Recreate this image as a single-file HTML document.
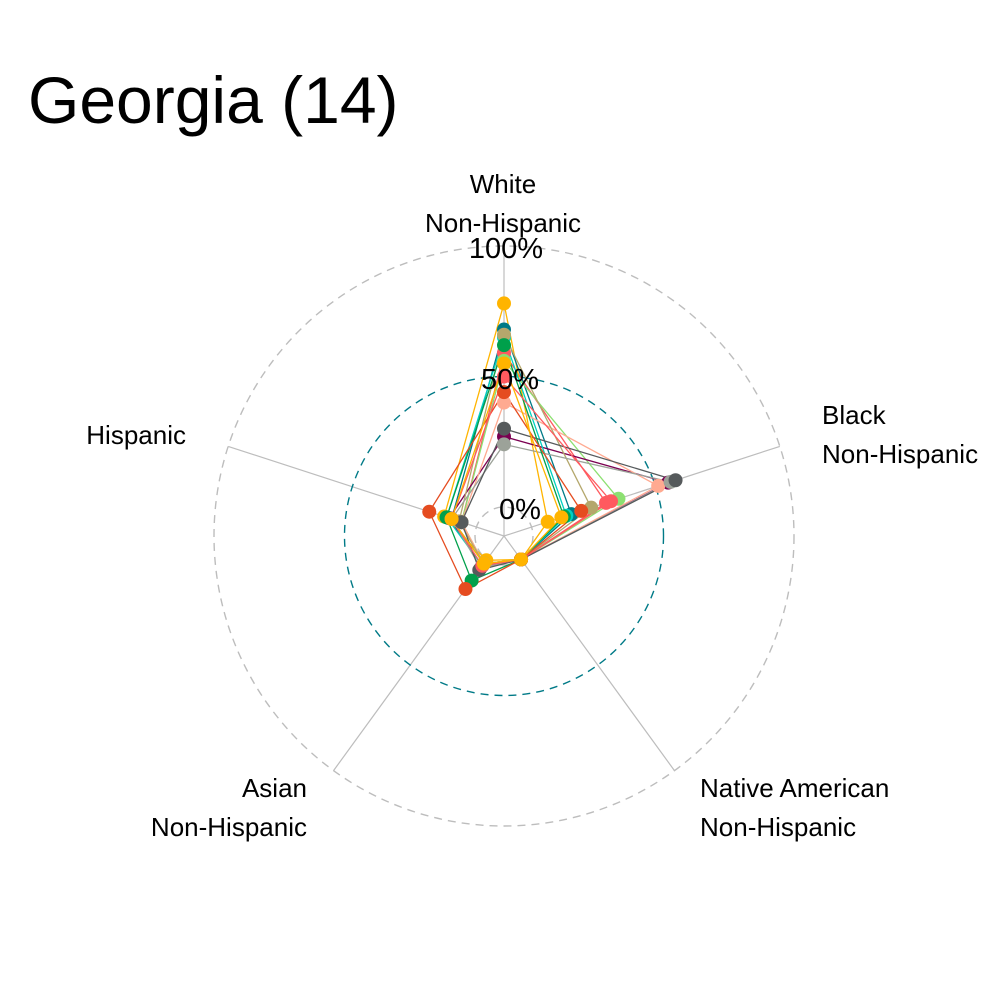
<!DOCTYPE html>
<html><head><meta charset="utf-8"><style>
html,body{margin:0;padding:0;background:#fff;}
svg{display:block;font-family:"Liberation Sans",sans-serif;}
</style></head><body>
<svg id="chart" width="1000" height="1000" viewBox="0 0 1000 1000">
<rect width="1000" height="1000" fill="#fff"/>
<text x="28" y="123" font-size="66" fill="#000">Georgia (14)</text>
<g id="grid"></g>
<g id="series"></g>
<g id="labels"></g>
</svg>
<script>
const axes = ["White Non-Hispanic","Black Non-Hispanic","Native American Non-Hispanic","Asian Non-Hispanic","Hispanic"];
const colors = ["#FF5A5F","#FFB400","#007A87","#8CE071","#7B0051","#00D1C1","#FFAA91","#B4A76C","#9CA299","#565A5C","#00A04B","#E54C20","#FF5A5F","#FFB400"];
const white    = [0.59,0.78,0.68,0.56,0.27,0.65,0.40,0.66,0.24,0.30,0.62,0.44,0.50,0.55];
const black    = [0.30,0.065,0.16,0.35,0.55,0.14,0.51,0.24,0.56,0.58,0.13,0.20,0.32,0.12];
const native   = [0,0,0,0,0,0,0,0,0,0,0,0,0,0];
const asian    = [0.02,0.004,0.02,0.02,0.03,0.03,0.02,0.02,0.04,0.05,0.10,0.14,0.03,0.02];
const hispanic = [0.06,0.13,0.10,0.06,0.11,0.12,0.06,0.07,0.10,0.06,0.12,0.19,0.10,0.10];
const gridVals = [0,0.5,1];
const gridLabels = ["0%","50%","100%"];

const NS="http://www.w3.org/2000/svg";
const cx=504, cy=536, R=290;
const angles=[90,18,-54,-126,162];
function rad(v){return (0.9*v+0.1)*R;}
function pt(i,v){const a=angles[i]*Math.PI/180, r=rad(v);return [cx+r*Math.cos(a), cy-r*Math.sin(a)];}
function mk(tag,attrs,parent){const e=document.createElementNS(NS,tag);for(const k in attrs)e.setAttribute(k,attrs[k]);parent.appendChild(e);return e;}
const grid=document.getElementById('grid'), ser=document.getElementById('series'), lab=document.getElementById('labels');

axes.forEach((a,i)=>{const p=pt(i,1);
  const l=mk('line',{x1:cx,y1:cy,x2:p[0],y2:p[1],stroke:'#BDBDBD','stroke-width':1.2},grid);
  
  
});
gridVals.forEach((g,i)=>{
  const c=mk('circle',{cx:cx,cy:cy,r:rad(g),fill:'none',stroke:i==1?'#007A87':'#BDBDBD','stroke-width':1.4,'stroke-dasharray':'8,6'},grid);
  
  
});
const data=[white,black,native,asian,hispanic];
colors.forEach((col,s)=>{
  const pts=data.map((arr,i)=>pt(i,arr[s]));
  const poly=mk('polygon',{points:pts.map(p=>p.join(',')).join(' '),fill:'none',stroke:col,'stroke-width':1.3},ser);
  
  
});
colors.forEach((col,s)=>{
  data.forEach((arr,i)=>{const p=pt(i,arr[s]);
    const c=mk('circle',{cx:p[0],cy:p[1],r:7,fill:col},ser);
    
    
  });
});
const gl=[[520,519],[510,389],[506,258]];
gridLabels.forEach((t,i)=>{
  const e=mk('text',{x:gl[i][0],y:gl[i][1],'font-size':29,'text-anchor':'middle',fill:'#000'},lab);
  e.textContent=t;
  
  
});
const axLab=[
  [["White","Non-Hispanic"],503,193,'middle'],
  [["Black","Non-Hispanic"],822,424,'start'],
  [["Native American","Non-Hispanic"],700,797,'start'],
  [["Asian","Non-Hispanic"],307,797,'end'],
  [["Hispanic"],186,444,'end']
];
axLab.forEach((a,i)=>{
  a[0].forEach((line,j)=>{
    const e=mk('text',{x:a[1],y:a[2]+j*39,'font-size':26,'text-anchor':a[3],fill:'#000'},lab);
    e.textContent=line;
    
    
  });
});
</script>
</body></html>
